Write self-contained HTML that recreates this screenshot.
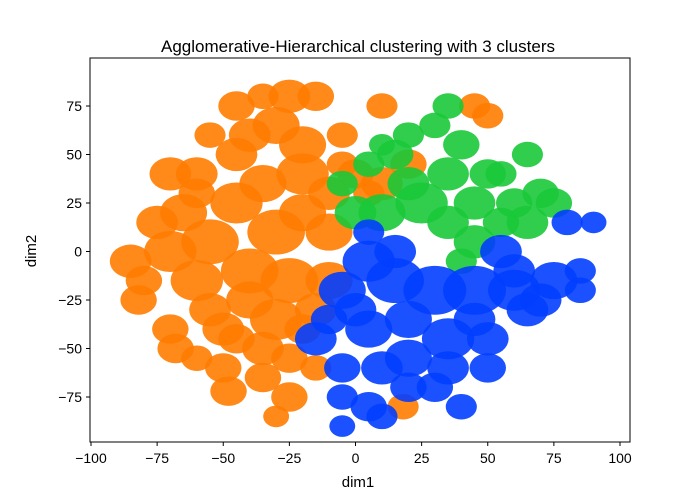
<!DOCTYPE html>
<html><head><meta charset="utf-8"><style>
body{margin:0;background:#fff;}
svg{display:block;font-family:"Liberation Sans","DejaVu Sans",sans-serif;}
</style></head><body>
<svg id="chart" width="700" height="500">
<rect x="0" y="0" width="700" height="500" fill="#fff"/>
<text x="358" y="52" font-size="17" text-anchor="middle">Agglomerative-Hierarchical clustering with 3 clusters</text>
<g id="marks"></g>
<rect x="90" y="58" width="540" height="384" fill="none" stroke="#000" stroke-width="1"/>
<g id="axes"></g>
<text x="358" y="487" font-size="15" text-anchor="middle">dim1</text>
<text x="36" y="251" font-size="15" text-anchor="middle" transform="rotate(-90 36 251)">dim2</text>
</svg>
<script>
const xTicks = [-100,-75,-50,-25,0,25,50,75,100];
const yTicks = [-75,-50,-25,0,25,50,75];
const orangeBlobs = [[-85,-5,6],[-82,-25,5],[-70,40,6],[-65,20,7],[-70,0,8],[-60,-15,8],[-70,-40,5],[-68,-50,5],[-50,-40,6],[-50,-60,5],[-48,-72,5],[-55,5,9],[-45,25,8],[-45,50,6],[-45,75,5],[-30,65,7],[-25,80,6],[-15,80,5],[-20,40,8],[-35,35,7],[-30,10,9],[-40,-10,9],[-25,-15,9],[-30,-35,8],[-35,-50,6],[-25,-55,5],[-25,-75,5],[-30,-85,3],[-10,10,7],[-10,-15,7],[-15,-30,6],[0,40,5],[10,35,6],[20,45,5],[10,75,4],[45,75,4],[50,70,4],[18,-80,4],[-5,45,4],[-75,15,6],[-60,40,6],[-55,-30,6],[-40,-25,7],[-40,60,6],[-55,60,4],[-35,80,4],[-20,55,7],[-10,30,6],[-20,20,7],[-45,-45,5],[-60,-55,4],[-35,-65,5],[-15,-60,4],[-20,-40,5],[-5,60,4],[5,30,4],[-80,-15,5],[-60,30,5]];
const greenBlobs = [[0,20,6],[10,20,7],[15,50,5],[25,25,8],[30,65,4],[35,75,4],[40,55,5],[45,25,6],[45,5,6],[55,40,4],[65,50,4],[70,30,5],[65,15,6],[75,25,5],[-5,35,4],[10,55,3],[20,35,6],[35,40,6],[50,40,5],[60,25,5],[35,15,6],[55,15,5],[40,-5,4],[20,60,4],[5,45,4]];
const blueBlobs = [[5,-5,8],[-5,-20,7],[15,-15,9],[30,-20,10],[45,-20,10],[60,-20,8],[75,-15,7],[85,-10,4],[80,15,4],[90,15,3],[55,0,6],[5,-40,7],[-15,-45,6],[-5,-60,5],[20,-55,7],[35,-45,8],[50,-45,6],[65,-30,6],[30,-70,5],[40,-80,4],[5,-80,5],[-5,-90,3],[35,-60,6],[5,10,4],[15,0,6],[20,-35,7],[0,-30,6],[60,-10,6],[70,-25,6],[50,-60,5],[20,-70,5],[-10,-35,5],[10,-60,6],[45,-35,6],[-5,-75,4],[10,-85,4],[85,-20,4]];
const NS="http://www.w3.org/2000/svg";
const xs = v => 355.5 + v*2.645;
const ys = v => 251.5 - v*1.94;
const marks = document.getElementById('marks');
function drawBlobs(arr, color, nm){
  arr.forEach(b=>{
    const e=document.createElementNS(NS,'ellipse');
    e.setAttribute('cx',xs(b[0]));e.setAttribute('cy',ys(b[1]));
    e.setAttribute('rx',b[2]*2.645+5);e.setAttribute('ry',b[2]*1.94+5);
    e.setAttribute('fill',color);e.setAttribute('fill-opacity','0.9');
    
    
    marks.appendChild(e);
  });
}
drawBlobs(orangeBlobs,'#ff7c00','orange-cluster-points');
drawBlobs(greenBlobs,'#1ac938','green-cluster-points');
drawBlobs(blueBlobs,'#023eff','blue-cluster-points');
const axes=document.getElementById('axes');
xTicks.forEach(t=>{
  const l=document.createElementNS(NS,'line');
  l.setAttribute('x1',xs(t));l.setAttribute('x2',xs(t));l.setAttribute('y1',442);l.setAttribute('y2',446);l.setAttribute('stroke','#000');
  
  
  axes.appendChild(l);
  const tx=document.createElementNS(NS,'text');
  tx.setAttribute('x',xs(t));tx.setAttribute('y',463);tx.setAttribute('font-size','14');tx.setAttribute('text-anchor','middle');
  tx.textContent=t<0?'\u2212'+(-t):String(t);
  
  
  axes.appendChild(tx);
});
yTicks.forEach(t=>{
  const l=document.createElementNS(NS,'line');
  l.setAttribute('x1',86);l.setAttribute('x2',90);l.setAttribute('y1',ys(t));l.setAttribute('y2',ys(t));l.setAttribute('stroke','#000');
  
  
  axes.appendChild(l);
  const tx=document.createElementNS(NS,'text');
  tx.setAttribute('x',82);tx.setAttribute('y',ys(t)+5);tx.setAttribute('font-size','14');tx.setAttribute('text-anchor','end');
  tx.textContent=t<0?'\u2212'+(-t):String(t);
  
  
  axes.appendChild(tx);
});
</script>
</body></html>
